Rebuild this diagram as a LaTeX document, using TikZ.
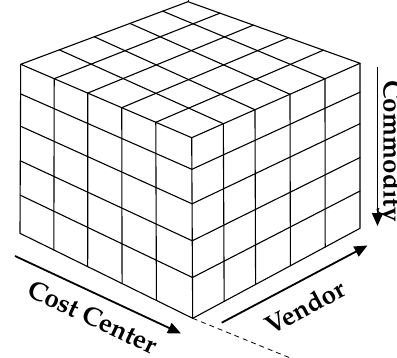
\documentclass[tikz,border=0pt]{standalone}
\usepackage[T1]{fontenc}
\usetikzlibrary{calc,arrows.meta}
\newcommand\labfont{\fontencoding{T1}\fontfamily{ppl}\fontseries{b}\fontsize{26}{30}\selectfont}
\tikzset{
  edge/.style={line width=1.1pt, line join=round, line cap=round},
  axisarrow/.style={line width=1.8pt, -{Triangle[length=13pt,width=11pt]}},
  hidden/.style={line width=0.8pt, dash pattern=on 5pt off 4pt},
  lab/.style={font=\labfont, inner sep=0pt}
}
\begin{document}
\begin{tikzpicture}[x=1pt,y=-1pt]
\useasboundingbox (0,0) rectangle (397,357);
% corners
\coordinate (L) at (20.7,64.3);
\coordinate (F) at (191.7,137.7);
\coordinate (R) at (360,63.3);
\coordinate (B) at (188,1.7);
\coordinate (L2) at (20,233.3);
\coordinate (F2) at (192.7,318.3);
\coordinate (R2) at (360,228.3);
% hidden axes
\coordinate (D1) at (310,366);
\coordinate (D0) at (192,-12);
\draw[hidden] (F2) -- (D1);
\draw[hidden] (B) -- (D0);
% left face
\foreach \a in {0.196,0.392,0.591,0.79}
  \draw[edge] ($(L)!\a!(F)$) -- ($(L2)!\a!(F2)$);
\foreach \h in {0.175,0.366,0.571,0.774}
  \draw[edge] ($(L)!\h!(L2)$) -- ($(F)!\h!(F2)$);
% right face
\foreach \b in {0.188,0.376,0.584,0.792}
  \draw[edge] ($(F)!\b!(R)$) -- ($(F2)!\b!(R2)$);
\foreach \h in {0.175,0.366,0.571,0.774}
  \draw[edge] ($(F)!\h!(F2)$) -- ($(R)!\h!(R2)$);
% top face
\foreach \c/\b in {0.231/0.188,0.44/0.376,0.653/0.584,0.849/0.792}
  \draw[edge] ($(L)!\c!(B)$) -- ($(F)!\b!(R)$);
\foreach \a/\d in {0.196/0.186,0.392/0.38,0.591/0.584,0.79/0.787}
  \draw[edge] ($(L)!\a!(F)$) -- ($(B)!\d!(R)$);
% outline
\draw[edge] (L) -- (F) -- (R) -- (B) -- cycle;
\draw[edge] (L) -- (L2) -- (F2) -- (R2) -- (R);
\draw[edge] (F) -- (F2);
% axis arrows
\coordinate (cc0) at (15,256);
\coordinate (cc1) at (181,333.5);
\coordinate (v0) at (221.7,322.7);
\coordinate (v1) at (367.5,245.5);
\coordinate (cm0) at (377.5,66.7);
\coordinate (cm1) at (377.5,226);
\draw[axisarrow] (cc0) -- (cc1);
\draw[axisarrow] (v0) -- (v1);
\draw[axisarrow] (cm0) -- (cm1);
% labels
\node[lab, rotate=-25.1] (costcenter) at (92.5,317) {Cost Center};
\node[lab, rotate=27.9] (vendor) at (304.5,307) {Vendor};
\node[lab, rotate=-90, anchor=base] (commodity) at (383.5,151) {Commodity};
\end{tikzpicture}
\end{document}
